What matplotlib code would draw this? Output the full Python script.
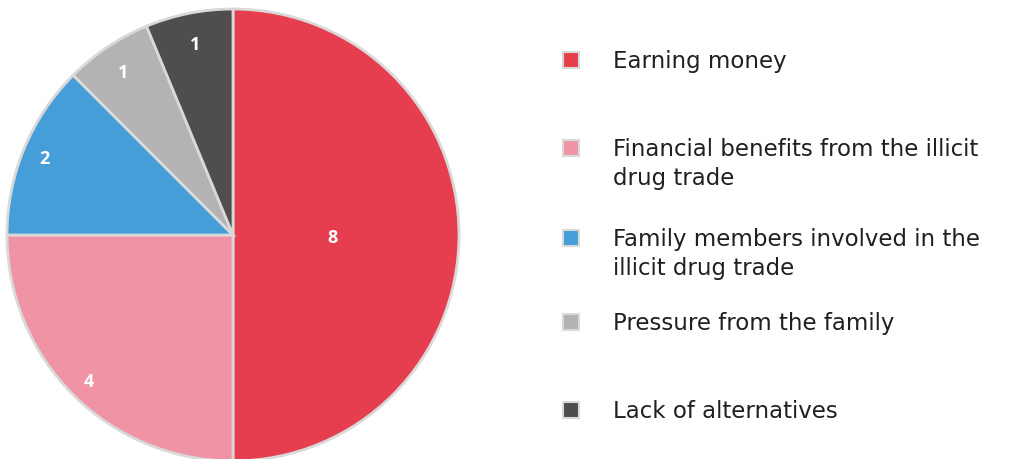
import matplotlib.pyplot as plt
import numpy as np
from matplotlib.patches import Rectangle

# data
labels = ['Earning money',
          'Financial benefits from the illicit\ndrug trade',
          'Family members involved in the\nillicit drug trade',
          'Pressure from the family',
          'Lack of alternatives']
values = [8, 4, 2, 1, 1]
colors = ['#E63E4E', '#F093A5', '#459ED8', '#B3B3B3', '#4F4D4F']

W, H = 1022, 459
fig = plt.figure(figsize=(W / 100, H / 100), dpi=100)

# pie axes: center (233, 235) px, radius 226 px
cx, cy, r = 233, 235, 226
ax = fig.add_axes([(cx - r) / W, (H - cy - r) / H, 2 * r / W, 2 * r / H])
wedges, _ = ax.pie(values, colors=colors, startangle=90, counterclock=False,
                   radius=1, wedgeprops=dict(edgecolor='#D9D9D9', linewidth=2))
ax.set_xlim(-1, 1)
ax.set_ylim(-1, 1)
ax.set_aspect('equal')
ax.axis('off')

# value labels
label_dist = [0.44, 0.90, 0.905, 0.876, 0.87]
for w, v, d in zip(wedges, values, label_dist):
    ang = np.deg2rad((w.theta1 + w.theta2) / 2)
    ax.text(d * np.cos(ang), d * np.sin(ang) - 0.012, str(v), ha='center', va='center',
            color='white', fontsize=13, fontweight='bold', family='Open Sans')

# legend
row_y = [60, 148, 238, 322, 410]
sq = 16
for lab, col, y in zip(labels, colors, row_y):
    fig.patches.append(Rectangle(((571 - sq / 2) / W, (H - y - sq / 2) / H), sq / W, sq / H,
                                 transform=fig.transFigure, facecolor=col,
                                 edgecolor='#D9D9D9', linewidth=1.5))
    fig.text(613 / W, (H - y + 10) / H, lab, ha='left', va='top', fontsize=16.5,
             color='#231F20', family='DejaVu Sans', linespacing=1.32)

fig.savefig('out.png', dpi=100)
